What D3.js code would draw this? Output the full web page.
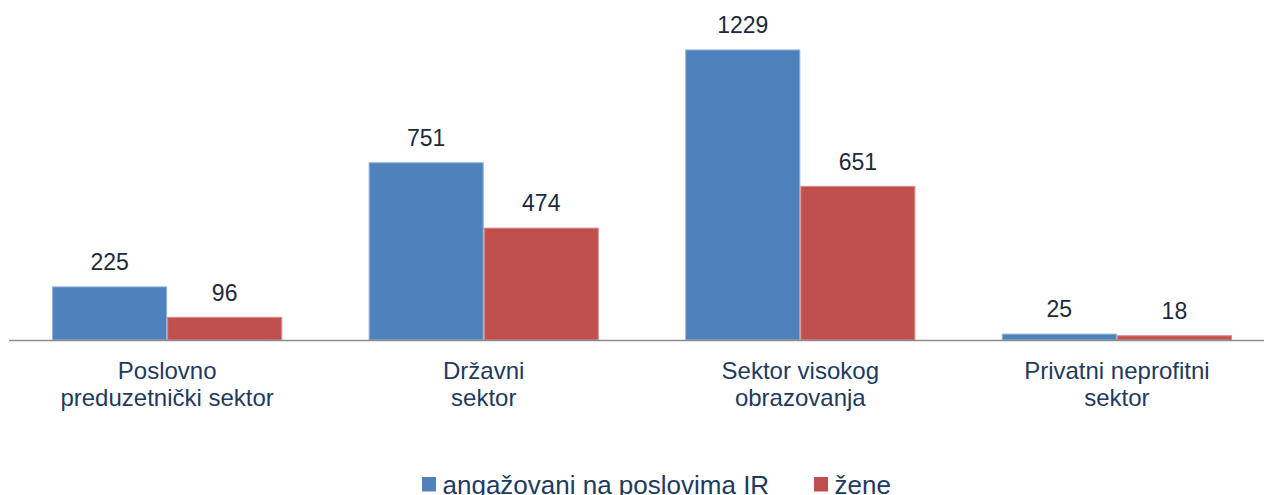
<!DOCTYPE html>
<html><head><meta charset="utf-8">
<script src="https://cdn.jsdelivr.net/npm/d3@7"></script>
<style>body{margin:0;background:#fff;}svg{display:block;font-family:"Liberation Sans",Arial,sans-serif;}</style>
</head><body>
<svg id="c" width="1264" height="495"></svg>
<script>
const categories = [["Poslovno","preduzetnički sektor"],["Državni","sektor"],["Sektor visokog","obrazovanja"],["Privatni neprofitni","sektor"]];
const seriesNames = ["angažovani na poslovima IR","žene"];
const engaged = [225, 751, 1229, 25];
const women = [96, 474, 651, 18];
const colors = ["#4f81bd","#c0504d"];
const strokes = ["#8fb0dd","#d98a88"];

const svg = d3.select("#c");
const keys = categories.map((c,i)=>i);
const x = d3.scaleBand().domain(keys).range([9,1275]).paddingInner(0.273).paddingOuter(0.136);
const xs = d3.scaleBand().domain([0,1]).range([0,x.bandwidth()]);
const y = d3.scaleLinear().domain([0,1400]).range([340,9.6]);
const series = [engaged, women];

series.forEach((vals,s)=>{
  svg.append("g").selectAll("rect").data(vals).join("rect")
    .attr("x",(d,i)=>x(i)+xs(s)+0.5)
    .attr("y",d=>y(d))
    .attr("width",xs.bandwidth()-1)
    .attr("height",d=>y(0)-y(d))
    .attr("fill",colors[s])
    .attr("stroke",strokes[s]).attr("stroke-width",1);
  svg.append("g").selectAll("text").data(vals).join("text")
    .attr("x",(d,i)=>x(i)+xs(s)+xs.bandwidth()/2)
    .attr("y",d=>y(d)-16.7)
    .attr("text-anchor","middle")
    .attr("font-size",23).attr("fill","#1c2a3e")
    .text(d=>d);
});

svg.append("line").attr("x1",9).attr("x2",1264).attr("y1",340.5).attr("y2",340.5)
  .attr("stroke","#8c8c8c").attr("stroke-width",1.5);

const lab = svg.append("g").selectAll("text").data(categories).join("text")
  .attr("text-anchor","middle").attr("font-size",24).attr("fill","#1f3a60")
  .attr("transform",(d,i)=>`translate(${x(i)+x.bandwidth()/2},0)`);
lab.selectAll("tspan").data(d=>d).join("tspan")
  .attr("x",0).attr("y",(d,j)=>379+j*27).text(d=>d);

const leg = [{x:422,t:seriesNames[0],c:colors[0]},{x:814,t:seriesNames[1],c:colors[1]}];
const lg = svg.append("g").selectAll("g").data(leg).join("g").attr("transform",d=>`translate(${d.x},0)`);
lg.append("rect").attr("x",0).attr("y",477).attr("width",14).attr("height",14.5).attr("fill",d=>d.c);
lg.append("text").attr("x",20.5).attr("y",493.5).attr("font-size",26).attr("fill","#1f3a60").text(d=>d.t);
</script>
</body></html>
